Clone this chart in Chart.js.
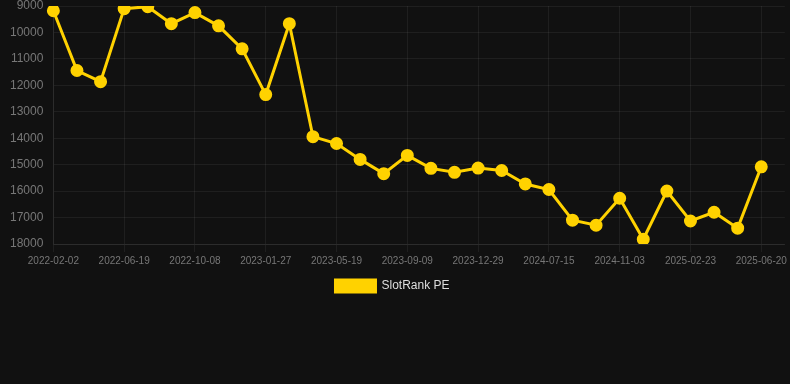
<!DOCTYPE html>
<html>
<head>
<meta charset="utf-8">
<script src="https://cdn.jsdelivr.net/npm/chart.js@4/dist/chart.umd.min.js"></script>
<style>
  html, body { margin: 0; padding: 0; background: #111111; }
  .wrap { width: 790px; height: 302px; position: relative; }
</style>
</head>
<body>
<div class="wrap"><canvas id="rankChart"></canvas></div>
<script>
// rank history (lower is better, so the axis is reversed)
const dates = [
  '2022-02-02', '2022-03-18', '2022-05-03', '2022-06-19', '2022-07-26', '2022-09-01',
  '2022-10-08', '2022-11-14', '2022-12-21', '2023-01-27', '2023-03-05', '2023-04-12',
  '2023-05-19', '2023-06-24', '2023-08-01', '2023-09-09', '2023-10-20', '2023-11-28',
  '2023-12-29', '2024-03-15', '2024-05-30', '2024-07-15', '2024-08-20', '2024-09-27',
  '2024-11-03', '2024-12-10', '2025-01-17', '2025-02-23', '2025-03-30', '2025-05-12',
  '2025-06-20', '2025-07-25'
]
const ranks = [
  9180, 11440, 11860, 9100, 9025, 9670,
  9250, 9750, 10620, 12350, 9670, 13940,
  14200, 14800, 15340, 14650, 15140, 15290,
  15130, 15220, 15730, 15940, 17100, 17290,
  16270, 17820, 16000, 17130, 16800, 17400,
  15080, null
]
const seriesName = 'SlotRank PE'
const yMin = 9000
const yMax = 18000

const gold = '#FFD200'
const gridColor = 'rgba(255,255,255,0.06)'
const tickColor = '#777777'

new Chart(document.getElementById('rankChart'), {
  type: 'line',
  data: {
    labels: dates,
    datasets: [{
      label: seriesName,
      data: ranks,
      borderColor: gold,
      backgroundColor: gold,
      borderWidth: 3,
      pointRadius: 5,
      pointHoverRadius: 6,
      pointBackgroundColor: gold,
      pointBorderColor: gold,
      tension: 0
    }]
  },
  options: {
    responsive: true, maintainAspectRatio: false, animation: false,
    layout: { autoPadding: false, padding: { left: 0, right: 5, top: 0, bottom: 0 } },
    scales: {
      x: {
        grid: { color: gridColor },
        border: { color: gridColor },
        ticks: {
          color: tickColor, font: { size: 10 },
          maxRotation: 0, autoSkip: true, maxTicksLimit: 11
        }
      },
      y: {
        reverse: true, min: yMin, max: yMax,
        grid: { color: gridColor, drawTicks: false },
        border: { color: gridColor },
        ticks: {
          color: tickColor, font: { size: 12 }, stepSize: 1000, padding: 10,
          callback: v => String(v)
        },
        // tick padding would also push the plot down, keep only half a label on top
        afterFit: axis => { axis.paddingTop = 6; axis.paddingBottom = 6 }
      }
    },
    plugins: {
      legend: {
        position: 'bottom',
        labels: { color: '#dddddd', font: { size: 12 }, boxWidth: 40, boxHeight: 12 }
      },
      tooltip: { enabled: true }
    }
  }
})
</script>
</body>
</html>
